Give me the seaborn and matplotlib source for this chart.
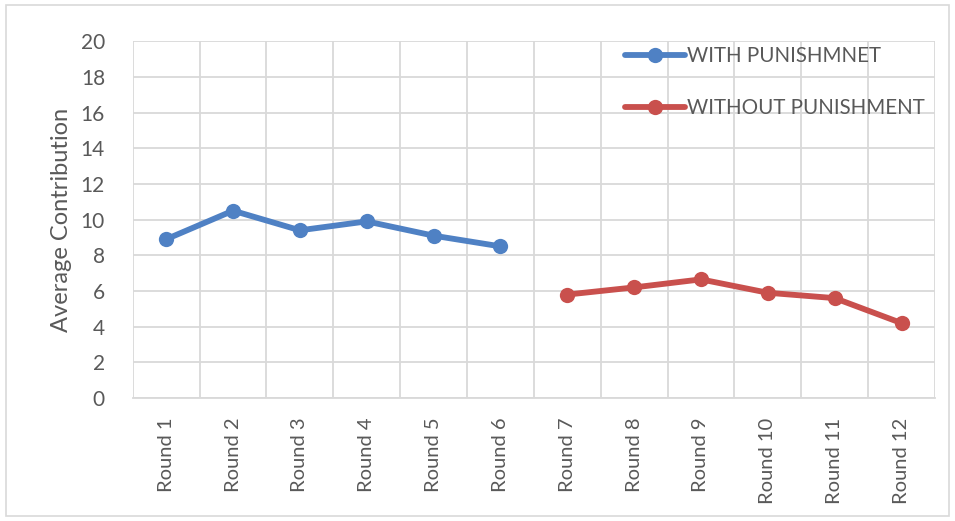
import matplotlib
matplotlib.use("Agg")
import matplotlib.pyplot as plt
from matplotlib.patches import Rectangle
import numpy as np
import pandas as pd
import seaborn as sns

# values
rounds = ["Round 1", "Round 2", "Round 3", "Round 4", "Round 5", "Round 6",
          "Round 7", "Round 8", "Round 9", "Round 10", "Round 11", "Round 12"]
with_punish = [8.9, 10.5, 9.4, 9.9, 9.1, 8.5]
without_punish = [5.8, 6.2, 6.65, 5.9, 5.6, 4.2]
series_names = ["WITH PUNISHMNET", "WITHOUT PUNISHMENT"]
yticks = list(range(0, 21, 2))

blue = "#4F81C4"
red = "#C9504D"
grey_txt = "#595959"
grid_col = "#D9D9D9"

df = pd.DataFrame({
    "pos": list(range(0, 6)) + list(range(6, 12)),
    "value": with_punish + without_punish,
    "series": [series_names[0]] * 6 + [series_names[1]] * 6,
})

sns.set_theme(style="white")
plt.rcParams['font.family'] = ['Lato', 'DejaVu Sans']

fig = plt.figure(figsize=(9.55, 5.21), dpi=100)
ax = fig.add_axes([0.139, 0.236, 0.840, 0.685])

sns.lineplot(data=df, x="pos", y="value", hue="series",
             palette=[blue, red], marker="o", markersize=11,
             markeredgewidth=0, linewidth=4.2, ax=ax, legend=True)

ax.set_xlim(-0.5, 11.5)
ax.set_ylim(0, 20)
ax.set_yticks(yticks)
ax.set_yticklabels([str(t) for t in yticks], fontsize=15, color=grey_txt)
ax.set_xticks(np.arange(len(rounds)))
ax.set_xticklabels(rounds, rotation=90, fontsize=14.5, color=grey_txt)
ax.set_xticks(np.arange(-0.5, 12, 1), minor=True)
ax.tick_params(axis="both", which="both", length=0)
ax.tick_params(axis="x", pad=14)
ax.tick_params(axis="y", pad=20)

ax.grid(False)
ax.yaxis.grid(True, color=grid_col, linewidth=1.3)
ax.xaxis.grid(True, which="minor", color=grid_col, linewidth=1.3)
ax.set_axisbelow(True)
for side in ["top", "right", "left"]:
    ax.spines[side].set_visible(False)
ax.spines["bottom"].set_color(grid_col)
ax.spines["bottom"].set_linewidth(1.3)

ax.set_xlabel("")
ax.set_ylabel("Average Contribution", fontsize=17, color=grey_txt, labelpad=6)

leg = ax.legend(loc="upper right", bbox_to_anchor=(1.0, 1.015), frameon=False,
                fontsize=14.8, handlelength=2.9, handletextpad=0.1,
                labelspacing=1.55, borderaxespad=0.1)
for t in leg.get_texts():
    t.set_color(grey_txt)

# light frame around the whole chart
fig.patches.append(Rectangle((0.006, 0.01), 0.988, 0.98, transform=fig.transFigure,
                             fill=False, edgecolor=grid_col, linewidth=1.2))

fig.savefig("out.png", dpi=100)
